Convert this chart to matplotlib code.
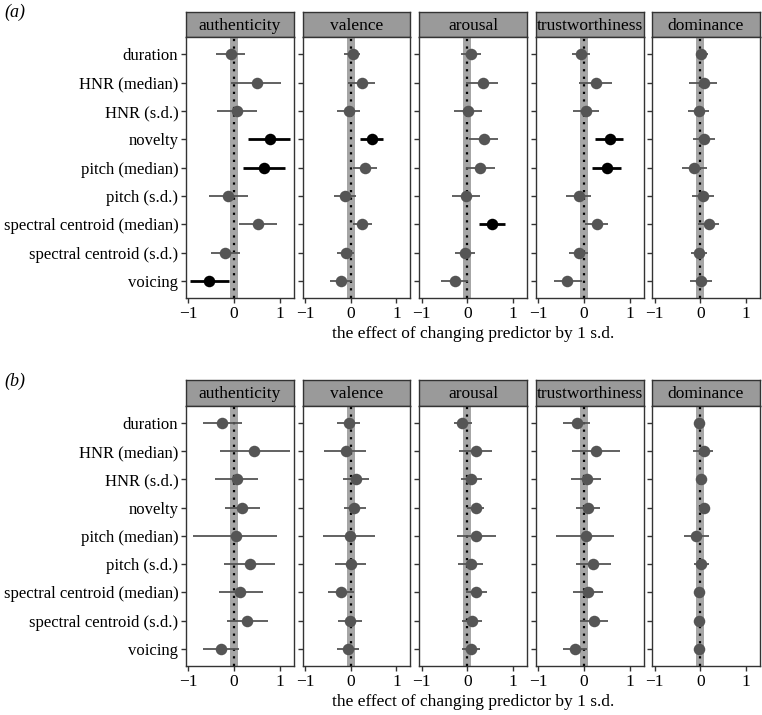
import matplotlib.pyplot as plt
import numpy as np

plt.rcParams['font.family'] = ['Liberation Serif', 'DejaVu Serif']

predictors = ["duration", "HNR (median)", "HNR (s.d.)", "novelty", "pitch (median)",
              "pitch (s.d.)", "spectral centroid (median)", "spectral centroid (s.d.)", "voicing"]
ratings = ["authenticity", "valence", "arousal", "trustworthiness", "dominance"]

# panel (a): estimate, lower, upper per rating
a_est = {
    "authenticity":    [-0.07, 0.51, 0.07, 0.79, 0.66, -0.13, 0.53, -0.20, -0.55],
    "valence":         [0.04, 0.25, -0.04, 0.47, 0.31, -0.13, 0.25, -0.10, -0.22],
    "arousal":         [0.07, 0.34, 0.02, 0.36, 0.28, -0.04, 0.55, -0.05, -0.26],
    "trustworthiness": [-0.07, 0.27, 0.04, 0.56, 0.50, -0.12, 0.28, -0.11, -0.38],
    "dominance":       [0.01, 0.07, -0.04, 0.08, -0.14, 0.05, 0.18, -0.04, 0.01],
}
a_lo = {
    "authenticity":    [-0.39, -0.07, -0.37, 0.30, 0.19, -0.55, 0.11, -0.51, -0.97],
    "valence":         [-0.14, -0.05, -0.30, 0.21, 0.04, -0.37, 0.04, -0.29, -0.46],
    "arousal":         [-0.13, -0.02, -0.30, 0.04, -0.02, -0.34, 0.25, -0.27, -0.58],
    "trustworthiness": [-0.26, -0.10, -0.24, 0.25, 0.18, -0.40, 0.02, -0.32, -0.66],
    "dominance":       [-0.09, -0.25, -0.28, -0.17, -0.39, -0.19, -0.06, -0.21, -0.22],
}
a_hi = {
    "authenticity":    [0.24, 1.02, 0.51, 1.22, 1.12, 0.30, 0.93, 0.12, -0.11],
    "valence":         [0.21, 0.54, 0.21, 0.71, 0.57, 0.11, 0.47, 0.07, 0.02],
    "arousal":         [0.29, 0.68, 0.31, 0.66, 0.61, 0.28, 0.82, 0.17, 0.01],
    "trustworthiness": [0.14, 0.61, 0.33, 0.85, 0.80, 0.15, 0.53, 0.09, -0.04],
    "dominance":       [0.17, 0.36, 0.20, 0.33, 0.14, 0.30, 0.40, 0.14, 0.25],
}
a_sig = {
    "authenticity":    [0, 0, 0, 1, 1, 0, 0, 0, 1],
    "valence":         [0, 0, 0, 1, 0, 0, 0, 0, 0],
    "arousal":         [0, 0, 0, 0, 0, 0, 1, 0, 0],
    "trustworthiness": [0, 0, 0, 1, 1, 0, 0, 0, 0],
    "dominance":       [0, 0, 0, 0, 0, 0, 0, 0, 0],
}

# panel (b)
b_est = {
    "authenticity":    [-0.26, 0.44, 0.06, 0.18, 0.04, 0.34, 0.12, 0.29, -0.28],
    "valence":         [-0.04, -0.11, 0.11, 0.08, -0.01, 0.01, -0.22, -0.01, -0.07],
    "arousal":         [-0.11, 0.18, 0.09, 0.18, 0.20, 0.07, 0.18, 0.10, 0.07],
    "trustworthiness": [-0.15, 0.26, 0.06, 0.08, 0.04, 0.20, 0.08, 0.22, -0.20],
    "dominance":       [-0.02, 0.07, 0.01, 0.08, -0.09, 0.02, -0.02, -0.04, -0.03],
}
b_lo = {
    "authenticity":    [-0.67, -0.31, -0.41, -0.20, -0.89, -0.21, -0.33, -0.16, -0.68],
    "valence":         [-0.29, -0.59, -0.16, -0.15, -0.61, -0.34, -0.49, -0.27, -0.30],
    "arousal":         [-0.30, -0.18, -0.13, 0.00, -0.23, -0.20, -0.04, -0.12, -0.12],
    "trustworthiness": [-0.45, -0.27, -0.28, -0.18, -0.62, -0.18, -0.25, -0.09, -0.47],
    "dominance":       [-0.06, -0.15, -0.09, 0.01, -0.36, -0.14, -0.14, -0.13, -0.12],
}
b_hi = {
    "authenticity":    [0.17, 1.22, 0.53, 0.56, 0.93, 0.90, 0.63, 0.74, 0.10],
    "valence":         [0.21, 0.33, 0.41, 0.33, 0.54, 0.33, 0.07, 0.24, 0.17],
    "arousal":         [0.10, 0.53, 0.31, 0.36, 0.62, 0.34, 0.42, 0.31, 0.27],
    "trustworthiness": [0.14, 0.79, 0.37, 0.35, 0.66, 0.60, 0.41, 0.53, 0.07],
    "dominance":       [0.02, 0.27, 0.12, 0.16, 0.18, 0.18, 0.11, 0.05, 0.07],
}
b_sig = {r: [0] * 9 for r in ratings}

W, H = 762, 715
fig = plt.figure(figsize=(W / 100, H / 100), dpi=100)

facet_x = [186, 302.7, 419.3, 536, 652.3]
facet_w = 107.5
grey = "#555555"
frame = "#333333"
fs = 12


def px_axes(x0, y0, x1, y1):
    # pixel box (top-left origin) -> figure axes
    return fig.add_axes([x0 / W, 1 - y1 / H, (x1 - x0) / W, (y1 - y0) / H])


def draw_panel(est, lo, hi, sig, strip_top, strip_bot, ax_bot, label):
    ypos = np.arange(1, len(predictors) + 1)
    for i, r in enumerate(ratings):
        x0 = facet_x[i]
        sax = px_axes(x0, strip_top, x0 + facet_w, strip_bot)
        sax.set_facecolor("#9a9a9a")
        sax.set_xticks([])
        sax.set_yticks([])
        for s in sax.spines.values():
            s.set_color(frame)
            s.set_linewidth(1.0)
        sax.text(0.5, 0.45, r, ha="center", va="center", fontsize=fs + 0.5,
                 transform=sax.transAxes)

        ax = px_axes(x0, strip_bot, x0 + facet_w, ax_bot)
        ax.axvspan(-0.09, 0.09, color="#a6a6a6", zorder=0, lw=0)
        ax.axvline(0, color="black", linestyle=(0, (1, 2.4)), lw=1.6, zorder=1)
        for j in range(len(predictors)):
            s = sig[r][j]
            c = "black" if s else grey
            ax.plot([lo[r][j], hi[r][j]], [ypos[j], ypos[j]], color=c,
                    lw=2.0 if s else 1.3, solid_capstyle="butt", zorder=2)
            ax.plot(est[r][j], ypos[j], "o", color=c, ms=8.3, mew=0, zorder=3)
        ax.set_xlim(-1.05, 1.30)
        ax.set_ylim(9.6, 0.4)
        ax.set_xticks([-1, 0, 1])
        ax.set_xticklabels(["\u22121", "0", "1"])
        ax.set_yticks(ypos)
        if i == 0:
            ax.set_yticklabels(predictors)
        else:
            ax.set_yticklabels([])
            ax.tick_params(axis="y", length=0)
        ax.tick_params(labelsize=fs + 0.5, color=frame, length=3.5, width=1.0, pad=2)
        ax.tick_params(axis="y", labelsize=fs)
        for sp in ax.spines.values():
            sp.set_color(frame)
            sp.set_linewidth(1.0)

    fig.text(473 / W, 1 - (ax_bot + 36) / H, "the effect of changing predictor by 1 s.d.",
             ha="center", va="center", fontsize=fs + 0.5)
    fig.text(4 / W, 1 - (strip_top + 1) / H, label, ha="left", va="center",
             fontsize=13, style="italic")


draw_panel(a_est, a_lo, a_hi, a_sig, 11.7, 37.3, 298, "(a)")
draw_panel(b_est, b_lo, b_hi, b_sig, 380, 405.7, 666, "(b)")

fig.savefig("out.png", dpi=100)
